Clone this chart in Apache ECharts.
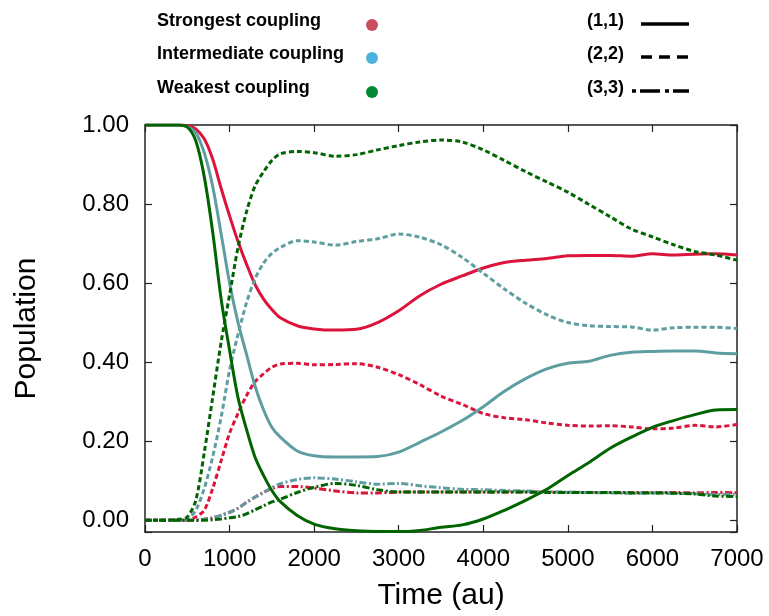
<!DOCTYPE html>
<html>
<head>
<meta charset="utf-8">
<script src="https://cdn.jsdelivr.net/npm/echarts@6/dist/echarts.min.js"></script>
<style>
  html, body { margin: 0; padding: 0; background: #fff; }
  #main { width: 769px; height: 616px; }
</style>
</head>
<body>
<div id="main"></div>
<script>
// time axis (au)
const times = [0, 250, 400, 500, 600, 700, 800, 900, 1000, 1100, 1200, 1300, 1400, 1500, 1600, 1800, 2000,
  2250, 2500, 2750, 3000, 3250, 3500, 3750, 4000, 4250, 4500, 4750, 5000, 5250, 5500, 5750, 6000, 6250, 6500, 6750, 7000];

// strongest coupling
const strong11 = [1, 1, 1, 0.998, 0.99, 0.965, 0.914, 0.84, 0.77, 0.705, 0.648, 0.597, 0.56, 0.533, 0.512, 0.492, 0.484,
  0.481, 0.483, 0.50, 0.530, 0.568, 0.597, 0.618, 0.638, 0.652, 0.658, 0.662, 0.669, 0.670, 0.670, 0.668, 0.674, 0.671, 0.673, 0.674, 0.671];
const strong22 = [0, 0, 0, 0, 0.008, 0.025, 0.08, 0.15, 0.22, 0.27, 0.315, 0.35, 0.37, 0.387, 0.395, 0.397, 0.393,
  0.394, 0.396, 0.387, 0.368, 0.343, 0.314, 0.293, 0.27, 0.259, 0.254, 0.246, 0.24, 0.238, 0.239, 0.236, 0.231, 0.233, 0.24, 0.236, 0.242];
const strong33 = [0, 0, 0, 0, 0, 0.002, 0.006, 0.012, 0.02, 0.03, 0.045, 0.058, 0.07, 0.08, 0.085, 0.085, 0.081,
  0.074, 0.069, 0.069, 0.071, 0.071, 0.071, 0.071, 0.071, 0.071, 0.071, 0.071, 0.070, 0.070, 0.070, 0.070, 0.070, 0.070, 0.069, 0.070, 0.069];

// intermediate coupling
const inter11 = [1, 1, 1, 0.995, 0.98, 0.93, 0.845, 0.725, 0.60, 0.50, 0.42, 0.34, 0.28, 0.235, 0.21, 0.175, 0.163,
  0.160, 0.160, 0.161, 0.172, 0.197, 0.223, 0.252, 0.287, 0.326, 0.358, 0.383, 0.397, 0.402, 0.417, 0.425, 0.427, 0.428, 0.428, 0.423, 0.421];
const inter22 = [0, 0, 0, 0.003, 0.025, 0.08, 0.16, 0.26, 0.38, 0.47, 0.55, 0.61, 0.65, 0.675, 0.69, 0.707, 0.704,
  0.696, 0.705, 0.712, 0.724, 0.716, 0.697, 0.665, 0.625, 0.585, 0.549, 0.52, 0.5, 0.492, 0.49, 0.489, 0.481, 0.487, 0.488, 0.488, 0.485];
const inter33 = [0, 0, 0, 0, 0, 0.002, 0.006, 0.012, 0.02, 0.03, 0.045, 0.058, 0.07, 0.082, 0.092, 0.103, 0.107,
  0.104, 0.097, 0.091, 0.093, 0.087, 0.082, 0.078, 0.077, 0.075, 0.074, 0.072, 0.071, 0.07, 0.069, 0.068, 0.069, 0.068, 0.067, 0.065, 0.066];

// weakest coupling
const weak11 = [1, 1, 1, 0.995, 0.96, 0.87, 0.73, 0.56, 0.43, 0.31, 0.23, 0.16, 0.114, 0.075, 0.047, 0.012, -0.010,
  -0.022, -0.027, -0.029, -0.029, -0.026, -0.018, -0.012, 0.003, 0.025, 0.05, 0.078, 0.113, 0.146, 0.182, 0.21, 0.235, 0.252, 0.267, 0.279, 0.28];
const weak22 = [0, 0, 0.002, 0.008, 0.05, 0.17, 0.31, 0.45, 0.57, 0.69, 0.78, 0.845, 0.881, 0.91, 0.927, 0.933, 0.93,
  0.921, 0.925, 0.937, 0.948, 0.957, 0.962, 0.957, 0.937, 0.91, 0.882, 0.856, 0.83, 0.799, 0.768, 0.737, 0.717, 0.697, 0.68, 0.671, 0.658];
const weak33 = [0, 0, 0, 0, 0, 0, 0.001, 0.003, 0.006, 0.009, 0.016, 0.026, 0.036, 0.046, 0.053, 0.07, 0.083,
  0.093, 0.088, 0.077, 0.071, 0.071, 0.071, 0.071, 0.071, 0.071, 0.071, 0.070, 0.070, 0.070, 0.070, 0.069, 0.069, 0.068, 0.066, 0.061, 0.060];

const couplingNames = ['Strongest coupling', 'Intermediate coupling', 'Weakest coupling'];
const stateNames = ['(1,1)', '(2,2)', '(3,3)'];

const FONT = '"Liberation Sans", Arial, Helvetica, sans-serif';
const RED = '#dc143c', TEAL = '#5f9ea0', GREEN = '#006400';
const dashes = { solid: 'solid', dash: [5, 3], dashdot: [7, 2.5, 2, 2.5] };

const zip = arr => times.map((t, i) => [t, arr[i]]);
const mk = (name, arr, color, dash) => ({
  name, type: 'line', data: zip(arr), showSymbol: false, symbol: 'none', smooth: 0.3,
  lineStyle: { color, width: 3, type: dash }, silent: true
});

const axisLine = { show: true, onZero: false, lineStyle: { color: '#222', width: 1.5 } };
const tick = { show: true, inside: true, length: 7, lineStyle: { color: '#222', width: 1.2 } };

const legendGraphics = [];
const dotColors = ['#c94f5f', '#4cb4dc', '#008a35'];
const rowY = [23, 56, 90];
couplingNames.forEach((n, i) => {
  legendGraphics.push({ type: 'text', left: 157, top: rowY[i] - 11,
    style: { text: n, font: 'bold 18px ' + FONT, fill: '#000' } });
  legendGraphics.push({ type: 'circle', shape: { cx: 372, cy: rowY[i] + 2, r: 6 }, style: { fill: dotColors[i] } });
});
const sampleDash = ['solid', [11, 7], [4, 4, 20, 5]];
const sampleStart = [641, 641, 632];
stateNames.forEach((n, i) => {
  legendGraphics.push({ type: 'text', left: 587, top: rowY[i] - 11,
    style: { text: n, font: 'bold 18px ' + FONT, fill: '#000' } });
  legendGraphics.push({ type: 'line', shape: { x1: sampleStart[i], y1: rowY[i] + 1, x2: 689, y2: rowY[i] + 1 },
    style: { stroke: '#000', lineWidth: 3.5, lineDash: sampleDash[i] === 'solid' ? null : sampleDash[i] } });
});

const chart = echarts.init(document.getElementById('main'), null, { renderer: 'canvas' });
chart.setOption({
  animation: false,
  backgroundColor: '#fff',
  grid: { left: 145, top: 125, width: 592, height: 412, containLabel: false },
  xAxis: [{
    type: 'value', min: 0, max: 7000, interval: 1000, position: 'bottom',
    name: 'Time (au)', nameLocation: 'middle', nameGap: 49,
    nameTextStyle: { fontFamily: FONT, fontSize: 30, color: '#000' },
    axisLine, axisTick: tick, splitLine: { show: false },
    axisLabel: { fontFamily: FONT, fontSize: 24, color: '#000', margin: 15, formatter: v => String(v) }
  }, {
    type: 'value', min: 0, max: 7000, interval: 1000, position: 'top',
    axisLine, axisTick: tick, splitLine: { show: false }, axisLabel: { show: false }
  }],
  yAxis: [{
    type: 'value', min: -0.03, max: 1, splitNumber: 5, minInterval: 0.2, maxInterval: 0.2, position: 'left',
    name: 'Population', nameLocation: 'middle', nameGap: 103,
    nameTextStyle: { fontFamily: FONT, fontSize: 30, color: '#000' },
    axisLine, axisTick: tick, splitLine: { show: false },
    axisLabel: { fontFamily: FONT, fontSize: 24, color: '#000', margin: 16,
      formatter: v => (v < -0.001 ? '' : v.toFixed(2)) }
  }, {
    type: 'value', min: -0.03, max: 1, splitNumber: 5, minInterval: 0.2, maxInterval: 0.2, position: 'right',
    axisLine, axisTick: tick, splitLine: { show: false }, axisLabel: { show: false }
  }],
  graphic: legendGraphics,
  series: [
    mk('Strongest (1,1)', strong11, RED, dashes.solid),
    mk('Strongest (2,2)', strong22, RED, dashes.dash),
    mk('Strongest (3,3)', strong33, RED, dashes.dashdot),
    mk('Intermediate (1,1)', inter11, TEAL, dashes.solid),
    mk('Intermediate (2,2)', inter22, TEAL, dashes.dash),
    mk('Intermediate (3,3)', inter33, TEAL, dashes.dashdot),
    mk('Weakest (1,1)', weak11, GREEN, dashes.solid),
    mk('Weakest (2,2)', weak22, GREEN, dashes.dash),
    mk('Weakest (3,3)', weak33, GREEN, dashes.dashdot)
  ]
});
</script>
</body>
</html>
